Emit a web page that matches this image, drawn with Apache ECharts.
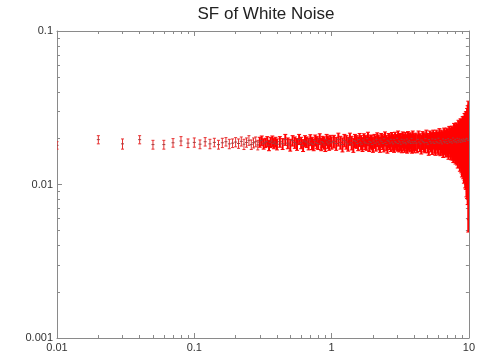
<!DOCTYPE html>
<html><head><meta charset="utf-8">
<script src="https://cdn.jsdelivr.net/npm/echarts@6/dist/echarts.min.js"></script>
<style>html,body{margin:0;padding:0;background:#fff}#c{width:478px;height:356px}</style>
</head><body><div id="c"></div>
<script>
const titleText = 'SF of White Noise';
const xTickLabels = ['0.01', '0.1', '1', '10'];
const yTickLabels = ['0.001', '0.01', '0.1'];

// lag values
const xs = [0.01,
  0.02,0.03,0.04,0.05,0.06,0.07,0.08,0.09,0.10,0.11,0.12,0.13,0.14,0.15,0.16,0.17,0.18,0.19,0.20,
  0.21,0.22,0.23,0.24,0.25,0.26,0.27,0.28,0.29,0.30,0.31,0.32,0.33,0.34,0.35,0.36,0.37,0.38,0.39,0.40,
  0.42,0.44,0.46,0.48,0.50,0.52,0.54,0.56,0.58,0.60,0.62,0.64,0.66,0.68,0.70,0.72,0.74,0.76,0.78,0.80,0.82,0.84,0.86,0.88,0.90,0.92,0.94,0.96,0.98,1.00,
  1.04,1.08,1.12,1.16,1.20,1.24,1.28,1.32,1.36,1.40,1.44,1.48,1.52,1.56,1.60,1.64,1.68,1.72,1.76,1.80,1.84,1.88,1.92,1.96,2.00,
  2.05,2.10,2.15,2.20,2.25,2.30,2.35,2.40,2.45,2.50,2.55,2.60,2.65,2.70,2.75,2.80,2.85,2.90,2.95,3.00,3.05,3.10,3.15,3.20,3.25,3.30,3.35,3.40,3.45,3.50,3.55,3.60,3.65,3.70,3.75,3.80,3.85,3.90,3.95,4.00,
  4.1,4.2,4.3,4.4,4.5,4.6,4.7,4.8,4.9,5.0,5.1,5.2,5.3,5.4,5.5,5.6,5.7,5.8,5.9,6.0,
  6.1,6.2,6.3,6.4,6.5,6.6,6.7,6.8,6.9,7.0,7.1,7.2,7.3,7.4,7.5,7.6,7.7,7.8,7.9,8.0,
  8.1,8.2,8.3,8.4,8.5,8.6,8.7,8.8,8.9,9.0,9.1,9.2,9.3,9.4,9.5,9.6,9.7,9.8,9.9,10.0];

// structure function values
const sf = [0.0180,
  0.0196,0.0184,0.0196,0.0182,0.0182,0.0187,0.0192,0.0186,0.0188,0.0183,0.0190,0.0184,0.0188,0.0182,0.0187,0.0190,0.0184,0.0186,0.0189,
  0.0185,0.0191,0.0183,0.0188,0.0194,0.0182,0.0187,0.0190,0.0181,0.0189,0.0193,0.0184,0.0187,0.0191,0.0180,0.0188,0.0192,0.0185,0.0189,0.0183,
  0.0190,0.0184,0.0196,0.0186,0.0181,0.0193,0.0188,0.0183,0.0197,0.0187,0.0180,0.0192,0.0189,0.0184,0.0195,0.0186,0.0182,0.0194,0.0188,0.0185,0.0198,0.0183,0.0190,0.0187,0.0181,0.0196,0.0189,0.0184,0.0193,0.0187,
  0.0191,0.0185,0.0197,0.0188,0.0182,0.0194,0.0189,0.0184,0.0198,0.0187,0.0181,0.0193,0.0190,0.0185,0.0196,0.0188,0.0183,0.0195,0.0189,0.0186,0.0199,0.0184,0.0191,0.0188,0.0182,
  0.0192,0.0186,0.0197,0.0189,0.0183,0.0195,0.0190,0.0185,0.0199,0.0188,0.0182,0.0194,0.0191,0.0186,0.0197,0.0189,0.0184,0.0196,0.0190,0.0187,0.0200,0.0185,0.0192,0.0189,0.0183,0.0197,0.0190,0.0186,0.0195,0.0188,0.0184,0.0198,0.0191,0.0187,0.0194,0.0189,0.0185,0.0199,0.0190,0.0186,
  0.0191,0.0186,0.0197,0.0189,0.0184,0.0195,0.0190,0.0187,0.0199,0.0188,0.0183,0.0196,0.0191,0.0186,0.0198,0.0189,0.0185,0.0197,0.0190,0.0187,
  0.0200,0.0186,0.0193,0.0189,0.0184,0.0198,0.0191,0.0187,0.0196,0.0190,0.0185,0.0199,0.0192,0.0188,0.0196,0.0190,0.0186,0.0201,0.0193,0.0189,
  0.0197,0.0191,0.0187,0.0200,0.0193,0.0189,0.0198,0.0192,0.0188,0.0196,0.0193,0.0190,0.0198,0.0192,0.0195,0.0191,0.0197,0.0200,0.0199,0.0194];

// error bar half widths
const sfErr = [0.0010,
  0.0012,0.0014,0.0012,0.0012,0.0012,0.0012,0.0013,0.0012,0.0013,0.0012,0.0012,0.0013,0.0012,0.0012,0.0013,0.0012,0.0013,0.0012,0.0013,
  0.0013,0.0013,0.0014,0.0013,0.0014,0.0013,0.0014,0.0014,0.0013,0.0014,0.0014,0.0014,0.0013,0.0014,0.0014,0.0014,0.0015,0.0014,0.0014,0.0015,
  0.0015,0.0015,0.0016,0.0015,0.0016,0.0015,0.0016,0.0016,0.0015,0.0016,0.0016,0.0016,0.0015,0.0016,0.0016,0.0017,0.0016,0.0016,0.0017,0.0016,0.0016,0.0017,0.0016,0.0017,0.0017,0.0016,0.0017,0.0017,0.0016,0.0017,
  0.0018,0.0018,0.0019,0.0018,0.0019,0.0018,0.0019,0.0019,0.0018,0.0019,0.0019,0.0019,0.0018,0.0019,0.0019,0.0020,0.0019,0.0019,0.0020,0.0019,0.0020,0.0020,0.0019,0.0020,0.0020,
  0.0020,0.0021,0.0020,0.0021,0.0021,0.0020,0.0021,0.0022,0.0021,0.0021,0.0022,0.0021,0.0022,0.0022,0.0021,0.0022,0.0022,0.0023,0.0022,0.0022,0.0023,0.0022,0.0023,0.0023,0.0022,0.0023,0.0023,0.0024,0.0023,0.0023,0.0024,0.0023,0.0024,0.0024,0.0023,0.0024,0.0025,0.0024,0.0024,0.0025,
  0.0025,0.0025,0.0026,0.0025,0.0026,0.0026,0.0027,0.0026,0.0027,0.0027,0.0028,0.0027,0.0028,0.0029,0.0028,0.0029,0.0030,0.0029,0.0030,0.0031,
  0.0031,0.0032,0.0033,0.0033,0.0034,0.0035,0.0035,0.0036,0.0037,0.0038,0.0039,0.0040,0.0041,0.0043,0.0044,0.0046,0.0047,0.0049,0.0051,0.0053,
  0.0055,0.0057,0.0059,0.0062,0.0064,0.0067,0.0070,0.0073,0.0076,0.0080,0.0084,0.0088,0.0092,0.0097,0.0102,0.0108,0.0116,0.0126,0.0150,0.0135];

const data = xs.map((x, i) => [x, sf[i] - sfErr[i], sf[i] + sfErr[i], sf[i]]);

const chart = echarts.init(document.getElementById('c'), null, {renderer: 'canvas'});
const axisCol = '#8a8a8a';
const labelStyle = {color: '#333', fontSize: 11, fontFamily: 'Liberation Sans, Arial, sans-serif'};
function logAxis(pos, min, max, labels, showLabel) {
  return {
    type: 'log', logBase: 10, min: min, max: max, position: pos,
    axisLine: {show: true, onZero: false, lineStyle: {color: axisCol, width: 1}},
    axisTick: {show: true, inside: true, length: 5, lineStyle: {color: axisCol}},
    minorTick: {show: true, splitNumber: 9, length: 3, lineStyle: {color: axisCol}},
    splitLine: {show: false},
    axisLabel: {show: showLabel, ...labelStyle, margin: 4,
      formatter: v => { const s = labels.find(l => Math.abs(parseFloat(l) - v) / v < 1e-6); return s || ''; }}
  };
}
chart.setOption({
  animation: false,
  title: {text: titleText, left: 261, top: 1, textAlign: 'center',
    textStyle: {fontSize: 17, fontWeight: 'normal', color: '#222', fontFamily: 'Liberation Sans, Arial, sans-serif'}},
  grid: {left: 57, right: 8, top: 31, bottom: 18, containLabel: false},
  xAxis: [logAxis('bottom', 0.01, 10, xTickLabels, true), logAxis('top', 0.01, 10, xTickLabels, false)],
  yAxis: [logAxis('left', 0.001, 0.1, yTickLabels, true), logAxis('right', 0.001, 0.1, yTickLabels, false)],
  series: [{
    type: 'custom',
    xAxisIndex: 0, yAxisIndex: 0,
    data: data,
    encode: {x: 0, y: [1, 2]},
    clip: true,
    renderItem: function (params, api) {
      const top = api.coord([api.value(0), api.value(2)]);
      const bot = api.coord([api.value(0), api.value(1)]);
      const mid = api.coord([api.value(0), api.value(3)]);
      const sparse = api.value(0) < 0.3;
      const w = sparse ? 1.5 : 2;
      const st = {stroke: sparse ? '#e83030' : '#ff0000', lineWidth: sparse ? 1 : 2};
      return {type: 'group', children: [
        {type: 'line', shape: {x1: top[0], y1: top[1], x2: bot[0], y2: bot[1]}, style: st},
        {type: 'line', shape: {x1: top[0] - w, y1: top[1], x2: top[0] + w, y2: top[1]}, style: {stroke: st.stroke, lineWidth: 1}},
        {type: 'line', shape: {x1: bot[0] - w, y1: bot[1], x2: bot[0] + w, y2: bot[1]}, style: {stroke: st.stroke, lineWidth: 1}},
        {type: 'line', shape: {x1: mid[0] - w, y1: mid[1], x2: mid[0] + w, y2: mid[1]}, style: {stroke: '#a04040', lineWidth: 1}}
      ]};
    }
  }]
});
</script></body></html>
